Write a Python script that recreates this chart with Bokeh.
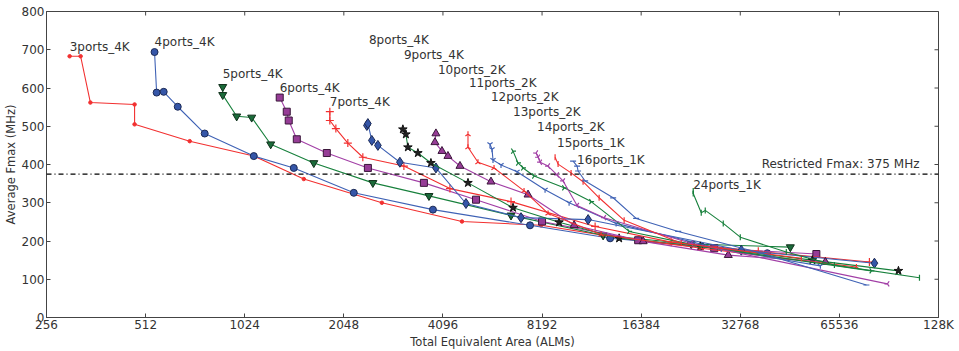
from bokeh.plotting import figure
from bokeh.models import FixedTicker, Span, ColumnDataSource
from bokeh.core.properties import value
from bokeh.embed import file_html
from bokeh.resources import INLINE

# ---------------- data ----------------
x_3ports = [301, 325, 348, 474, 474, 697, 1091, 1548, 2672, 4679, 8136, 16384, 28682]
y_3ports = [683, 683, 562, 557, 505, 461, 422, 362, 300, 251, 241, 199, 179]

x_4ports = [545, 553, 581, 641, 774, 1091, 1443, 2196, 3819, 7532, 13186, 24940, 39580]
y_4ports = [694, 588, 590, 551, 481, 422, 391, 326, 282, 241, 207, 186, 168]

x_5ports = [878, 878, 968, 1075, 1228, 1660, 2509, 3714, 6594, 12557, 23252, 46504]
y_5ports = [603, 582, 526, 523, 453, 404, 352, 318, 267, 215, 192, 184]

x_6ports = [1308, 1374, 1393, 1474, 1818, 2423, 3585, 5161, 8192, 16041, 27310, 55790]
y_6ports = [575, 538, 515, 466, 430, 391, 352, 308, 251, 202, 181, 166]

x_7ports = [1857, 1857, 1937, 2106, 2339, 3117, 4301, 6594, 11873, 20213, 37170, 80850]
y_7ports = [538, 515, 494, 456, 419, 396, 337, 303, 238, 197, 173, 145]

x_8ports = [2406, 2423, 2491, 2599, 3031, 3900, 4812, 7071, 11305, 33000, 83740]
y_8ports = [502, 507, 463, 450, 406, 391, 298, 261, 256, 176, 142]

x_9ports = [3095, 3161, 3206, 3438, 3766, 4880, 6687, 9227, 14043, 24766, 54250, 99050]
y_9ports = [492, 479, 445, 430, 404, 352, 287, 249, 207, 186, 150, 122]

x_10ports = [3900, 3873, 4068, 4242, 4614, 5731, 7427, 10250, 16614, 30130, 59420]
y_10ports = [481, 458, 435, 422, 396, 355, 321, 241, 199, 163, 145]

x_11ports = [4880, 4880, 5233, 5855, 7222, 8543, 12383, 24940, 73810]
y_11ports = [479, 445, 406, 391, 331, 272, 217, 181, 132]

x_12ports = [5693, 5773, 5813, 6148, 6876, 8366, 9897, 13752, 28682, 57370]
y_12ports = [453, 440, 412, 399, 381, 334, 300, 246, 179, 135]

x_13ports = [6687, 6925, 7172, 7747, 9557, 11545, 15063, 24940, 82000]
y_13ports = [435, 404, 391, 370, 339, 303, 225, 186, 122]

x_14ports = [7856, 7966, 8079, 8543, 9099, 9490, 10468, 12645, 23252, 91700]
y_14ports = [430, 419, 406, 396, 373, 357, 293, 261, 194, 88]

x_15ports = [8974, 9164, 10035, 10915, 12211, 14546, 21679, 50230]
y_15ports = [419, 401, 378, 355, 313, 254, 194, 155]

x_16ports = [10178, 10468, 10540, 11072, 13468, 15818, 21230, 37970, 79180]
y_16ports = [409, 396, 383, 357, 313, 259, 225, 168, 85]

x_24ports = [23580, 23580, 24940, 25650, 29090, 32768, 45210, 63290, 114740]
y_24ports = [331, 324, 274, 280, 246, 210, 171, 137, 104]

series_names = ["3ports_4K", "4ports_4K", "5ports_4K", "6ports_4K", "7ports_4K",
                "8ports_4K", "9ports_4K", "10ports_2K", "11ports_2K", "12ports_2K",
                "13ports_2K", "14ports_2K", "15ports_1K", "16ports_1K", "24ports_1K"]
label_x = [301, 545, 878, 1308, 1857, 2440, 3117, 3955, 4913, 5731, 6687, 7911, 9099, 10468, 23580]
label_y = [688, 703, 619, 582, 544, 707, 668, 629, 595, 557, 520, 481, 437, 393, 329]

x_min, x_max = 256, 131072
y_min, y_max = 0, 800
x_ticks = [256, 512, 1024, 2048, 4096, 8192, 16384, 32768, 65536, 131072]
x_tick_labels = ["256", "512", "1024", "2048", "4096", "8192", "16384", "32768", "65536", "128K"]
y_ticks = [0, 100, 200, 300, 400, 500, 600, 700, 800]
fmax_limit = 375
limit_text = "Restricted Fmax: 375 MHz"
limit_text_x = 114740
limit_text_y = 384

# ---------------- styles ----------------
RED = "#f23030"
BLUE = "#3f62b5"
GREEN = "#17803c"
MAG = "#a23fa6"
TXT = "#333333"
AX = "#444444"
FONT = "DejaVu Sans"

all_x = [x_3ports, x_4ports, x_5ports, x_6ports, x_7ports, x_8ports, x_9ports, x_10ports,
         x_11ports, x_12ports, x_13ports, x_14ports, x_15ports, x_16ports, x_24ports]
all_y = [y_3ports, y_4ports, y_5ports, y_6ports, y_7ports, y_8ports, y_9ports, y_10ports,
         y_11ports, y_12ports, y_13ports, y_14ports, y_15ports, y_16ports, y_24ports]
line_colors = [RED, BLUE, GREEN, MAG, RED, BLUE, GREEN, MAG, RED, BLUE, GREEN, MAG, RED, BLUE, GREEN]
# (marker, size, fill, edge, angle)
marker_styles = [
    ("circle", 3.5, RED, RED, 0),
    ("circle", 7, "#3556a8", "#1c2a55", 0),
    ("inverted_triangle", 8, "#1b6b3a", "#0f2f1a", 0),
    ("square", 7, "#963c96", "#3a173a", 0),
    ("cross", 8, RED, RED, 0),
    ("diamond", 10, "#3556a8", "#1c2a55", 0),
    ("star", 9, "#222222", "#111111", 0),
    ("triangle", 8, "#963c96", "#3a173a", 0),
    ("y", 6, RED, RED, 3.14159),
    ("y", 6, BLUE, BLUE, 0),
    ("y", 6, GREEN, GREEN, 1.5708),
    ("y", 6, MAG, MAG, -1.5708),
    ("dash", 6, RED, RED, 1.5708),
    ("dash", 6, BLUE, BLUE, 0),
    ("dash", 6, GREEN, GREEN, 1.5708),
]

p = figure(width=959, height=351, x_axis_type="log",
           x_range=(x_min, x_max), y_range=(y_min, y_max),
           output_backend="svg", toolbar_location=None,
           min_border_left=46, min_border_right=21, min_border_top=11, min_border_bottom=31)
p.background_fill_color = "white"
p.border_fill_color = "white"
p.grid.visible = False
p.outline_line_color = AX

p.add_layout(Span(location=fmax_limit, dimension="width", line_color="black",
                  line_width=1.3, line_dash="5 3 1 3"))

for xs, ys, col, ms in zip(all_x, all_y, line_colors, marker_styles):
    p.line(xs, ys, line_color=col, line_width=1.1)
    mk, sz, fc, ec, ang = ms
    p.scatter(xs, ys, marker=mk, size=sz, fill_color=fc, line_color=ec,
              line_width=1 if mk not in ("y", "dash", "cross") else 1.2, angle=ang)

src = ColumnDataSource(dict(x=label_x, y=label_y, t=series_names))
p.text(x="x", y="y", text="t", source=src, text_font=value(FONT), text_font_size="12px",
       text_color=TXT, text_baseline="bottom", text_align="left")
p.text(x=[limit_text_x], y=[limit_text_y], text=[limit_text], text_font=value(FONT),
       text_font_size="12px", text_color=TXT, text_baseline="bottom", text_align="right")

# inward tick marks on the top and right frame edges (half of each dash is clipped by the frame)
p.scatter(x_ticks, [y_max] * len(x_ticks), marker="dash", angle=1.5708, size=8,
          line_color=AX, line_width=1)
p.scatter([x_max] * len(y_ticks), y_ticks, marker="dash", size=8,
          line_color=AX, line_width=1)

def style_axis(ax):
    ax.axis_line_color = AX
    ax.major_tick_line_color = AX
    ax.major_tick_in = 4
    ax.major_tick_out = 0
    ax.minor_tick_line_color = None
    ax.major_label_text_font = FONT
    ax.major_label_text_color = TXT
    ax.major_label_text_font_size = "12px"
    ax.axis_label_text_font = FONT
    ax.axis_label_text_color = TXT
    ax.axis_label_text_font_style = "normal"
    ax.axis_label_text_font_size = "11.5px"

xa = p.xaxis[0]
xa.ticker = FixedTicker(ticks=x_ticks, minor_ticks=[])
xa.major_label_overrides = {t: s for t, s in zip(x_ticks, x_tick_labels)}
xa.axis_label = "Total Equivalent Area (ALMs)"
style_axis(xa)
xa.major_label_standoff = 0
xa.axis_label_standoff = 0

ya = p.yaxis[0]
ya.ticker = FixedTicker(ticks=y_ticks, minor_ticks=[])
ya.axis_label = "Average Fmax (MHz)"
style_axis(ya)
ya.major_label_standoff = 2
ya.axis_label_standoff = 1

open("out.html", "w").write(file_html(p, INLINE))
